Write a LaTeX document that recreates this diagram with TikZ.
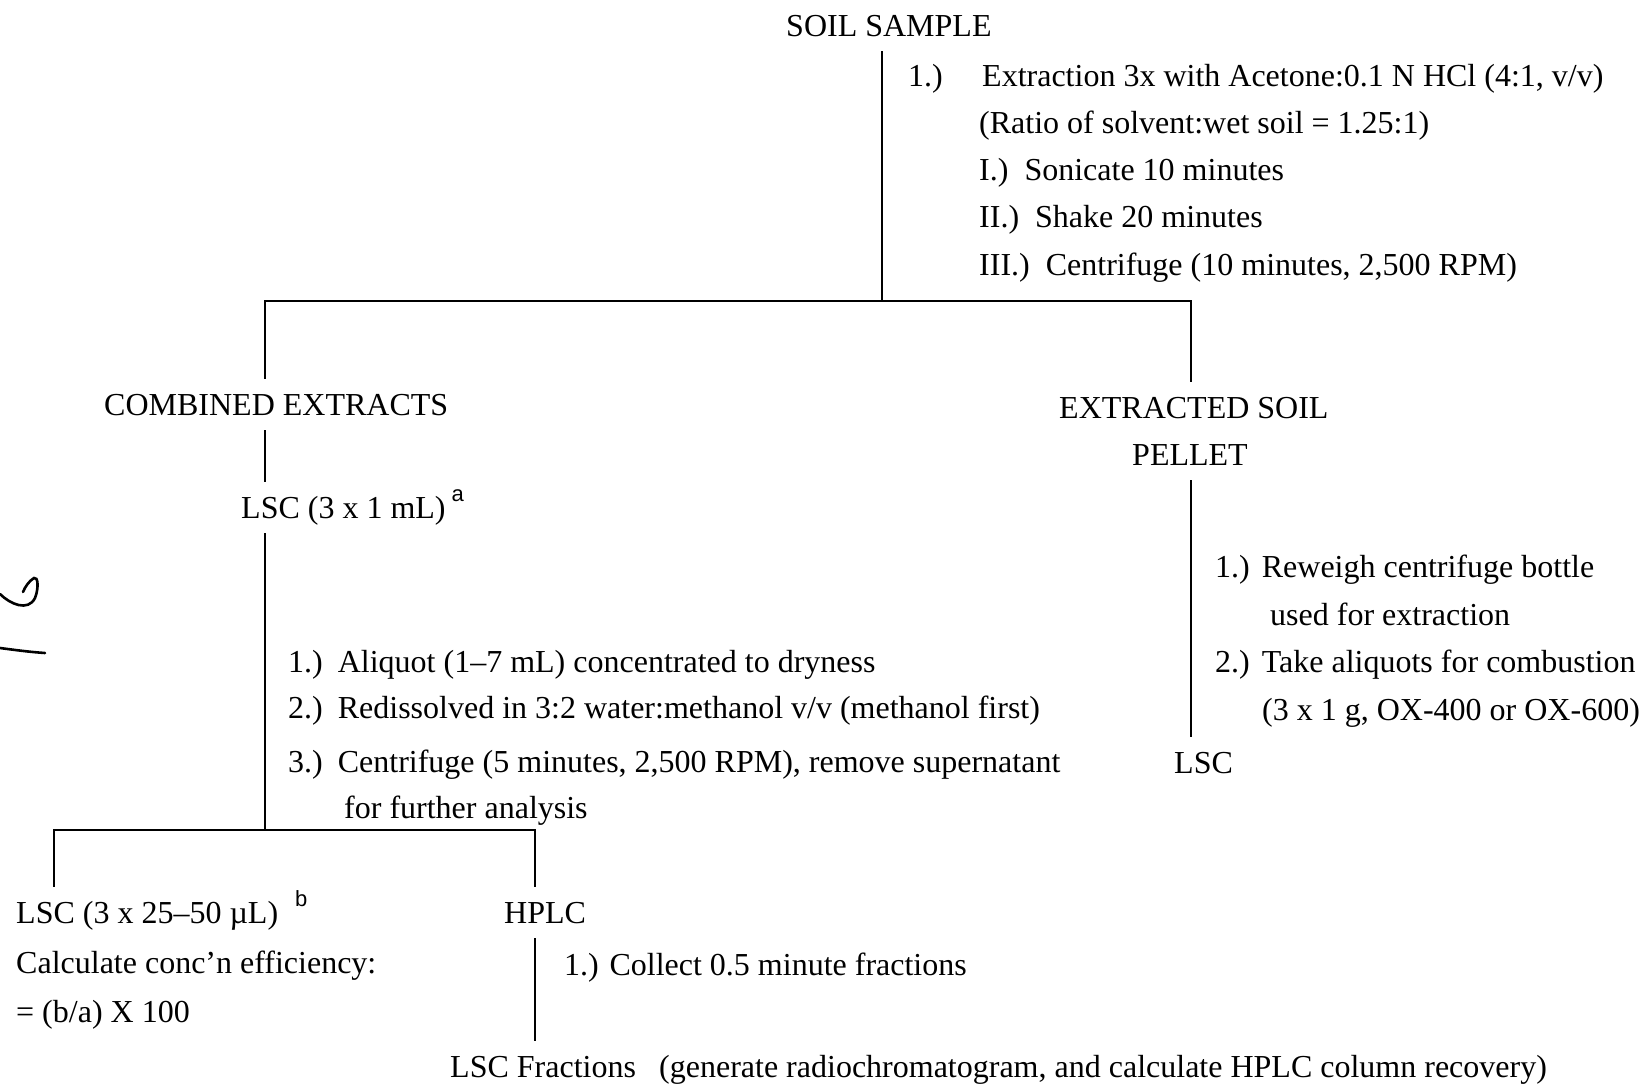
\documentclass[tikz,border=0pt]{standalone}
\usepackage{fontspec}
\setmainfont{Liberation Serif}
\newfontfamily\supfont{Liberation Sans}
\begin{document}
\begin{tikzpicture}[x=1pt,y=-1pt,
  txt/.style={inner sep=0pt,anchor=base west,font=\fontsize{32}{38}\selectfont},
  lbl/.style={anchor=base west,inner xsep=0pt,inner ysep=15pt,text height=21pt,text depth=0pt,font=\fontsize{32}{38}\selectfont},
  conn/.style={line width=2pt},
  hand/.style={line width=2.6pt,line cap=round}]
\useasboundingbox[fill=white] (0,0) rectangle (1641,1087);

% ---- labels (tree nodes)
\node[lbl] (soil) at (786,36) {SOIL SAMPLE};
\node[lbl] (combined) at (104,415) {COMBINED EXTRACTS};
\node[lbl] (lsca) at (241,518) {LSC (3 x 1 mL)\hspace{6pt}\raisebox{17pt}{\supfont\fontsize{22}{24}\selectfont a}};
\node[lbl] (extracted) at (1059,418) {EXTRACTED SOIL};
\node[lbl] (pellet) at (1132,465) {PELLET};
\node[lbl] (lscp) at (1174,773) {LSC};
\node[lbl] (lscb) at (16,923) {LSC (3 x 25--50 µL)\hspace{17pt}\raisebox{17pt}{\supfont\fontsize{22}{24}\selectfont b}};
\node[lbl] (hplc) at (504,923) {HPLC};
\node[lbl] (frac) at (450,1077) {LSC Fractions};

% ---- step texts
\node[txt] (s1n) at (908,86) {1.)};
\node[txt] (s1a) at (982,86) {Extraction 3x with Acetone:0.1 N HCl (4:1, v/v)};
\node[txt] (s1b) at (979,133) {(Ratio of solvent:wet soil = 1.25:1)};
\node[txt] (s1c) at (979,180) {I.)\hspace{16pt}Sonicate 10 minutes};
\node[txt] (s1d) at (979,227) {II.)\hspace{16pt}Shake 20 minutes};
\node[txt] (s1e) at (979,275) {III.)\hspace{16pt}Centrifuge (10 minutes, 2,500 RPM)};

\node[txt] (a1) at (288,672) {1.)\hspace{15pt}Aliquot (1--7 mL) concentrated to dryness};
\node[txt] (a2) at (288,718) {2.)\hspace{15pt}Redissolved in 3:2 water:methanol v/v (methanol first)};
\node[txt] (a3) at (288,772) {3.)\hspace{15pt}Centrifuge (5 minutes, 2,500 RPM), remove supernatant};
\node[txt] (a4) at (344,818) {for further analysis};

\node[txt] (p1) at (1215,577) {1.)\hspace{12pt}Reweigh centrifuge bottle};
\node[txt] (p2) at (1270,625) {used for extraction};
\node[txt] (p3) at (1215,672) {2.)\hspace{12pt}Take aliquots for combustion};
\node[txt] (p4) at (1262,720) {(3 x 1 g, OX-400 or OX-600)};

\node[txt] (calc) at (16,973) {Calculate conc’n efficiency:};
\node[txt] (eq) at (16,1022) {= (b/a) X 100};
\node[txt] (collect) at (564,975) {1.) Collect 0.5 minute fractions};
\node[txt] (fracnote) at (659,1077) {(generate radiochromatogram, and calculate HPLC column recovery)};

% ---- junctions
\coordinate (j1) at (882,301);
\coordinate (j1L) at (265,301);
\coordinate (j1R) at (1191,301);
\coordinate (j2) at (265,830);
\coordinate (j2L) at (54,830);
\coordinate (j2R) at (535,830);

% ---- connectors
\draw[conn] (soil.south -| j1) -- (j1);
\draw[conn] (combined.north -| j1L) |- (j1R) -- (extracted.north -| j1R);
\draw[conn] (combined.south -| j1L) -- (lsca.north -| j1L);
\draw[conn] (lsca.south -| j2) -- (j2);
\draw[conn] (lscb.north -| j2L) |- (j2R) -- (hplc.north -| j2R);
\draw[conn] (hplc.south -| j2R) -- (frac.north -| j2R);
\draw[conn] (pellet.south -| j1R) -- (lscp.north -| j1R);

% ---- handwritten marks at the left edge
\draw[hand] (0,594) .. controls (10,604) and (28,612) .. (35,598)
  .. controls (39,588) and (38,576) .. (34,578)
  .. controls (29,581) and (25,587) .. (23,592);
\draw[hand] (0,648) .. controls (15,650) and (30,652) .. (45,653);
\end{tikzpicture}
\end{document}
